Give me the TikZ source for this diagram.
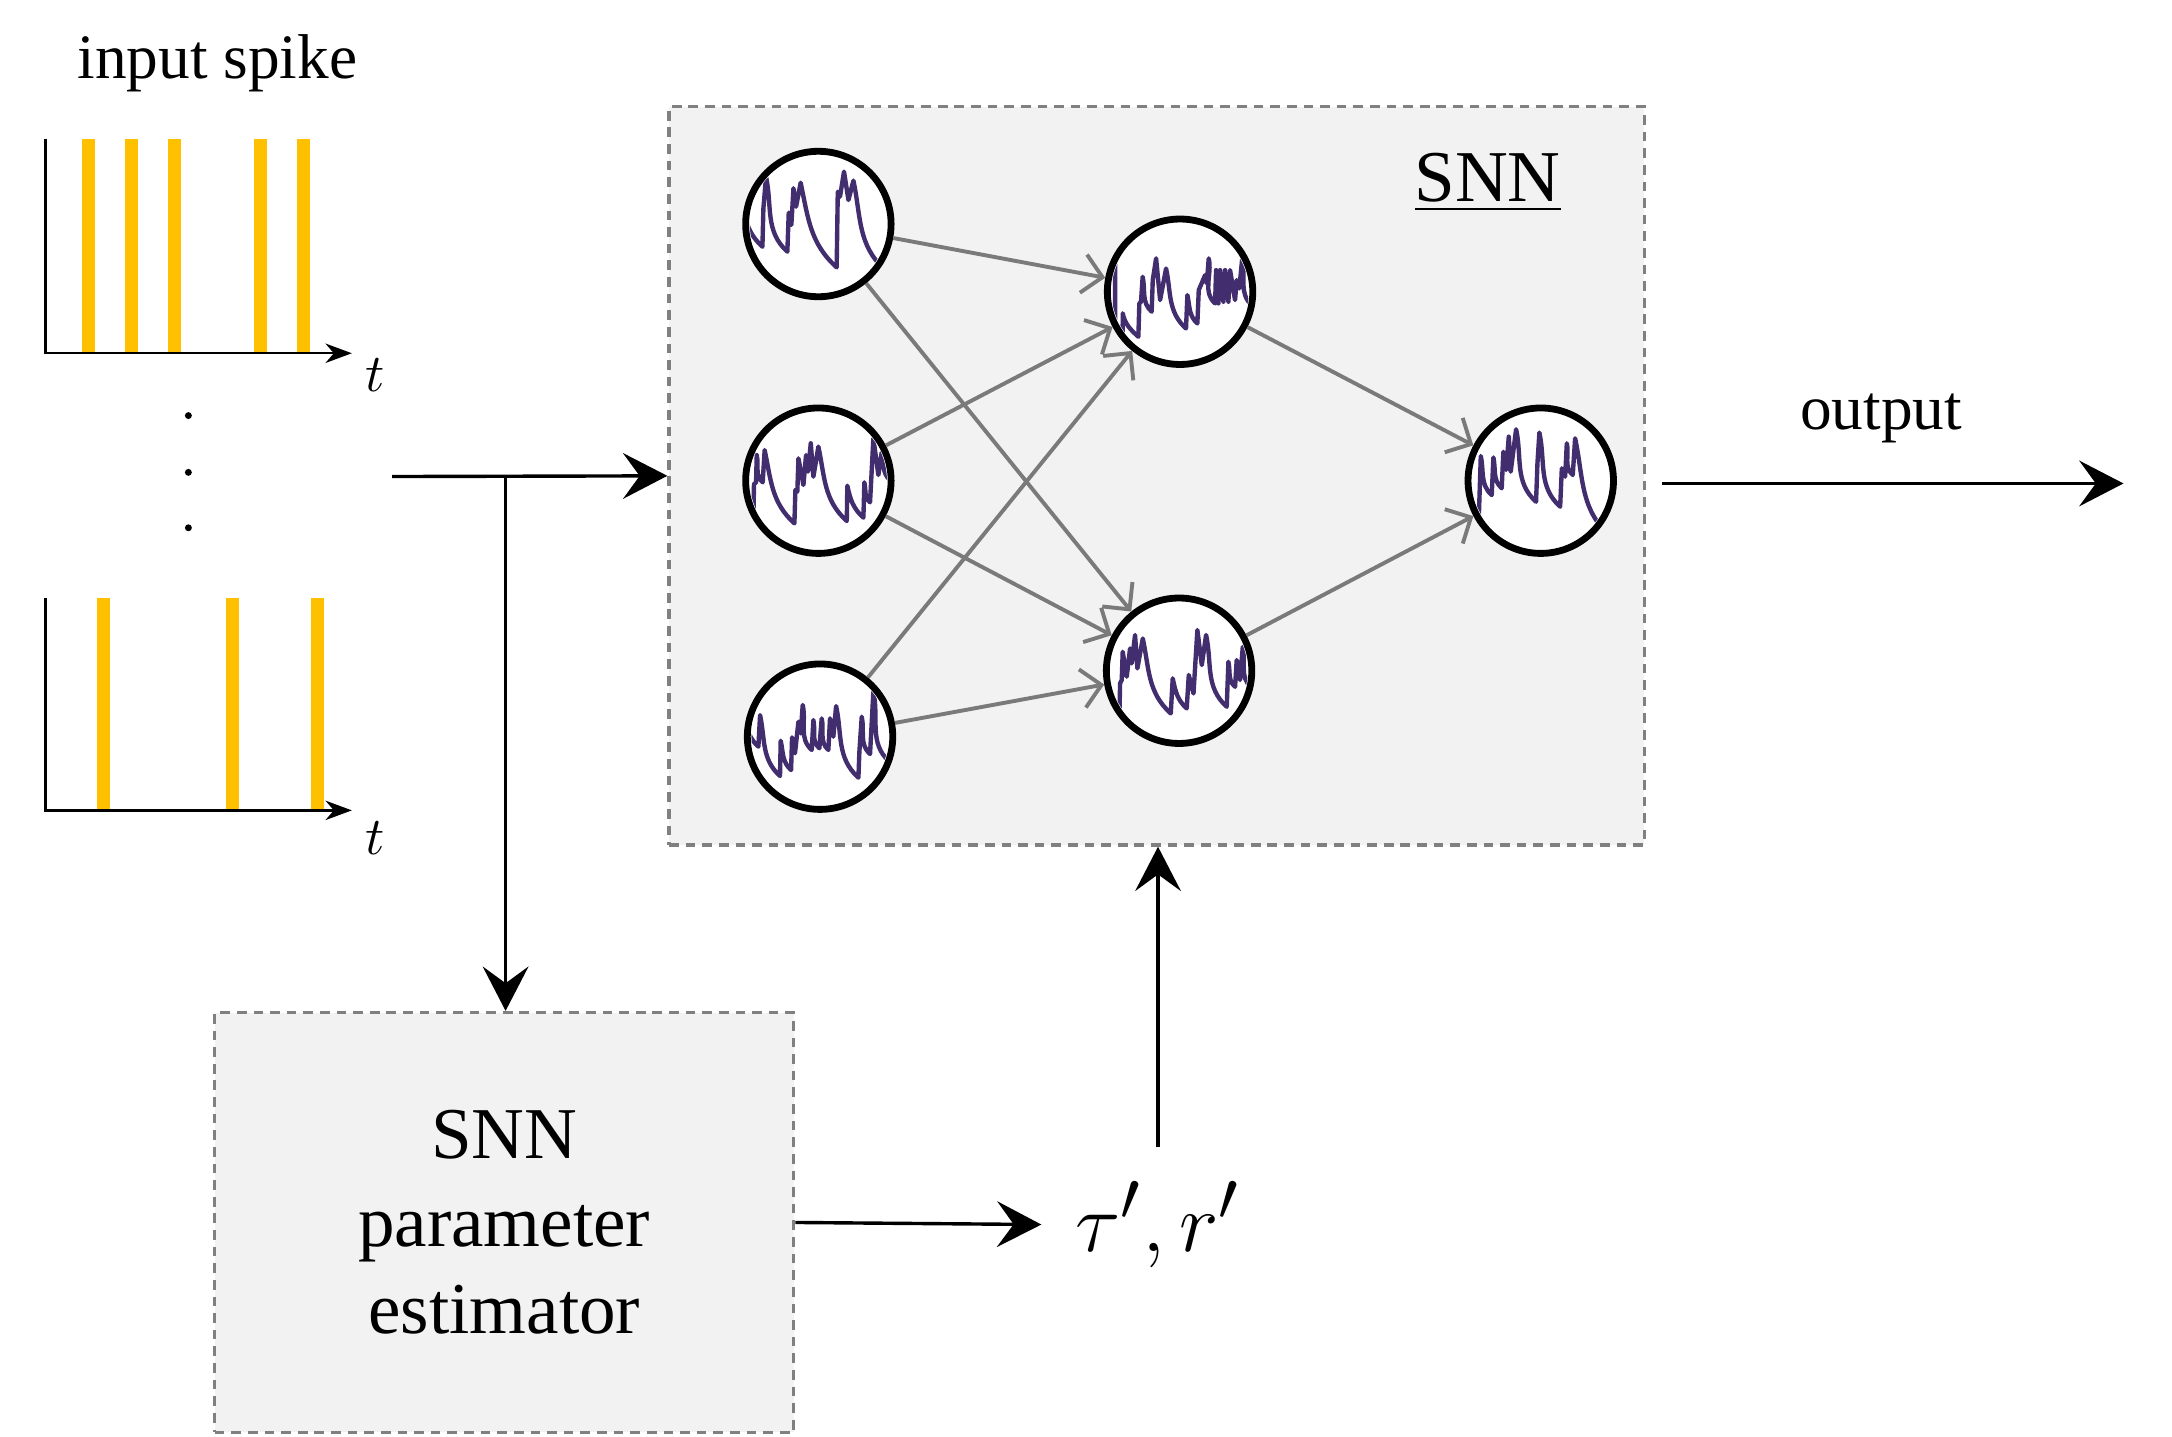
\documentclass[tikz,border=0pt]{standalone}
\usepackage{fontspec}
\setmainfont{Liberation Serif}
\usetikzlibrary{arrows.meta}
\usetikzlibrary{positioning}

\definecolor{spikeyellow}{RGB}{255,192,0}
\definecolor{wavepurple}{RGB}{66,46,110}
\definecolor{boxgray}{RGB}{242,242,242}
\definecolor{dashgray}{RGB}{128,128,128}
\definecolor{linkgray}{RGB}{122,122,122}

\tikzset{
  % main black connector
  flow/.style = {
    draw = black,
    line width = 0.7pt,
    -{Stealth[length=3.2mm, width=3.3mm, inset=1.2mm]}
  },
  % synapse between two neurons
  link/.style = {
    draw = linkgray,
    line width = 0.8pt,
    -{Straight Barb[length=1.4mm, width=2.8mm]}
  },
  % time axis of a spike train
  taxis/.style = {
    draw = black,
    line width = 0.5pt,
    -{Stealth[length=1.9mm, width=1.4mm, inset=0.6mm]}
  },
  spike/.style = {
    fill = spikeyellow
  },
  % membrane potential trace
  wave/.style = {
    draw = wavepurple,
    line width = 0.9pt,
    line join = round
  },
  % leaky decay after a spike
  decay/.style = {
    out = -78,
    in = 138
  }
}
\tikzset {
  block/.style = {
    draw = dashgray,
    fill = boxgray,
    line width = 0.7pt,
    dash pattern = on 0.7mm off 0.5mm
  },
  neuron/.style = {
    draw = black,
    fill = white,
    circle,
    line width = 1.4pt,
    minimum size = 10.5mm,
    inner sep = 0
  },
  smalltext/.style = {
    font = \fontsize{13}{15}\selectfont
  },
  bigtext/.style = {
    font = \fontsize{15}{18}\selectfont,
    align = center
  }
}

\begin{document}
\begin{tikzpicture}[x=0.1mm, y=-0.1mm]
  \useasboundingbox (0,0) rectangle (1568,1037);

  % input spike trains
  \node[smalltext] (inlabel) at (157,46) {input spike};
  \foreach \x in {64.1,95.1,126.1,188.1,219.1}
    \fill[spike] (\x-4.7,100) rectangle (\x+4.7,255);
  \draw[taxis] (33,100) -- (33,255) -- (254,255);
  \node[font=\fontsize{11}{13}\selectfont] (t1) at (271,271) {$t$};

  \foreach \y in {300,341,381}
    \fill (136,\y) circle (0.25mm);

  \foreach \x in {74.6,167.5,229.4}
    \fill[spike] (\x-4.7,432) rectangle (\x+4.7,585);
  \draw[taxis] (33,432) -- (33,585) -- (254,585);
  \node[font=\fontsize{11}{13}\selectfont] (t2) at (271,605) {$t$};

  % SNN
  \node[block, minimum width=70.4mm, minimum height=53.3mm] (snn) at (835,343.5) {};
  \node[bigtext] (snntitle) at (1074,132) {\underline{SNN}};

  \node[neuron] (n1) at (590.8,161.7) {};
  \node[neuron] (n2) at (590.8,347) {};
  \node[neuron] (n3) at (592,531.8) {};
  \node[neuron] (h1) at (851.9,210.6) {};
  \node[neuron] (h2) at (851.2,484.2) {};
  \node[neuron] (out) at (1112.3,347) {};

  \foreach \a in {n1,n2,n3}
    \foreach \b in {h1,h2}
      \draw[link] (\a) -- (\b);
  \draw[link] (h1) -- (out);
  \draw[link] (h2) -- (out);

  \begin{scope}[shift={(n1)}]
    \clip (0,0) circle (4.95mm);
    \draw[wave] (-57.5,-32.5) to[decay] (-40.4,16.4) -- (-39.7,-11.1) -- (-37.8,-34.2)
      to[decay] (-22.4,20) -- (-21.4,-8.2) -- (-19.5,0.7) -- (-18,-25.8) -- (-16.1,-12.5)
      -- (-12.8,-29.8) to[decay] (13.2,31.3) -- (14,-23.3) -- (15.6,-19.7) -- (18.5,-37.8)
      -- (21.7,-17.3) -- (25.3,-31.3) to[decay] (48,33);
  \end{scope}
  \begin{scope}[shift={(n2)}]
    \clip (0,0) circle (4.95mm);
    \draw[wave] (-47,35) -- (-46.5,2.6) -- (-45,1.2) -- (-44.5,-18.5) to[decay] (-40.2,1.2)
      -- (-38.8,-22.1) to[decay] (-17.3,30.8) -- (-16.6,6.7) -- (-15.2,7.9) -- (-14.4,-16.1)
      -- (-10.8,3.1) -- (-8.9,-18.5) -- (-7.5,-6.5) -- (-5.5,-27) -- (-3.6,-2.9)
      -- (0,-24.6) to[decay] (20.5,29.1) -- (20.9,3.6) to[decay] (32.5,26.7) -- (33.2,1.2)
      to[decay] (37.3,15.6) -- (39.7,-30.6) -- (43.3,-4.1) -- (45.7,-20.5) to[decay] (52,0);
  \end{scope}
  \begin{scope}[shift={(n3)}]
    \clip (0,0) circle (4.95mm);
    \draw[wave] (-56,-28) to[decay] (-44.5,7.2) -- (-43.3,-15.6) to[decay] (-28.9,28.4)
      -- (-28.4,2.9) to[decay] (-20.9,24.1) -- (-20.2,0.5) -- (-18.1,12) -- (-15.6,-10.8)
      -- (-14,-2.4) -- (-12.5,-22.9) to[decay] (-6,9.6) -- (-4.8,-12) to[decay] (-0.5,8.4)
      -- (1.2,-13.2) to[decay] (6,9.6) -- (7.2,-13.2) -- (9.6,0) -- (11.6,-22.1)
      to[decay] (27.7,29.6) -- (28.4,10.8) -- (30.1,-14.4) to[decay] (36.1,12.5)
      -- (38.5,-32.5) to[decay] (50,18);
  \end{scope}
  \begin{scope}[shift={(h1)}]
    \clip (0,0) circle (4.95mm);
    \draw[wave] (-46.9,-21.7) -- (-46.9,60) -- (-41.5,60) -- (-41.4,15.6) to[decay] (-30.1,32.5)
      -- (-29.4,8.4) -- (-28.2,7.2) -- (-27,-10.8) to[decay] (-20.5,14.4) -- (-19.7,-8.4)
      -- (-17.3,-24.1) -- (-14.4,6) -- (-10.1,-16.8) to[decay] (4.3,26.5) -- (5.3,2.4)
      to[decay] (12.5,22.9) -- (13.5,-1.2) -- (18.1,-12) -- (19.3,-6) -- (20.7,-24.1)
      to[decay] (25.3,8.4) -- (26,-15.6) -- (27.7,8.4) -- (28.9,-15.6) -- (31.3,7.2)
      -- (32.5,-15.6) -- (34.9,7.2) -- (36.1,-15.6) -- (39.7,6) -- (40.9,-8.4)
      -- (42.8,-2.4) -- (44.8,-23.3) to[decay] (52,10);
  \end{scope}
  \begin{scope}[shift={(h2)}]
    \clip (0,0) circle (4.95mm);
    \draw[wave] (-43.3,45) -- (-42.6,9.1) -- (-41.4,6.7) -- (-40.7,-13.7) -- (-37.8,4.3)
      -- (-35.4,-16.1) -- (-34.2,-5.3) -- (-31.8,-25.8) -- (-30.1,-1.7) -- (-26.2,-23.3)
      to[decay] (-6,30.8) -- (-4.6,5.5) to[decay] (5.5,27.2) -- (7,3.1) -- (10.4,16.4)
      -- (13.2,-29.4) -- (16.4,-4.1) -- (19.5,-25.8) to[decay] (34.4,26) -- (35.6,-6.5)
      to[decay] (40.4,11.6) -- (41.6,-7.7) -- (44,6.7) -- (46,-17.3) to[decay] (52,12);
  \end{scope}
  \begin{scope}[shift={(out)}]
    \clip (0,0) circle (4.95mm);
    \draw[wave] (-45.3,45) -- (-43.3,-17.8) to[decay] (-35.4,10.4) -- (-34.2,-16.8)
      to[decay] (-28.2,5.5) -- (-27,-20.9) -- (-25,-7.7) -- (-23.1,-31.8) -- (-21.7,-6.5)
      -- (-17.8,-37.1) to[decay] (-3.4,15.2) -- (-2.4,-12.5) -- (-1,-34.7) to[decay] (14,18.8)
      -- (15.2,-8.9) -- (17.6,-2.9) -- (18.8,-27) to[decay] (23.1,-4.1) -- (24.8,-30.6)
      to[decay] (50,40);
  \end{scope}

  % parameter estimator
  \node[block, bigtext, minimum width=41.8mm, minimum height=30.3mm] (est) at (364,882.5)
    {SNN\\parameter\\estimator};
  \node[inner sep=2.4mm, font=\fontsize{19}{23}\selectfont] (tau) at (836,884) {$\tau',r'$};

  % connectors
  \coordinate (instart) at (283,344);
  \coordinate (fork) at (365,344);
  \coordinate (outstart) at (1200,349);
  \coordinate (outend) at (1533,349);

  \draw[flow] (instart) -- (snn.west);
  \draw[flow] (fork) -- (fork |- est.north);
  \draw[flow] (est.east) -- (tau.west);
  \draw[flow] (tau.north) -- (tau.north |- snn.south);
  \draw[flow] (outstart) -- (outend);
  \node[smalltext] (outlabel) at (1358,302) {output};
\end{tikzpicture}
\end{document}
